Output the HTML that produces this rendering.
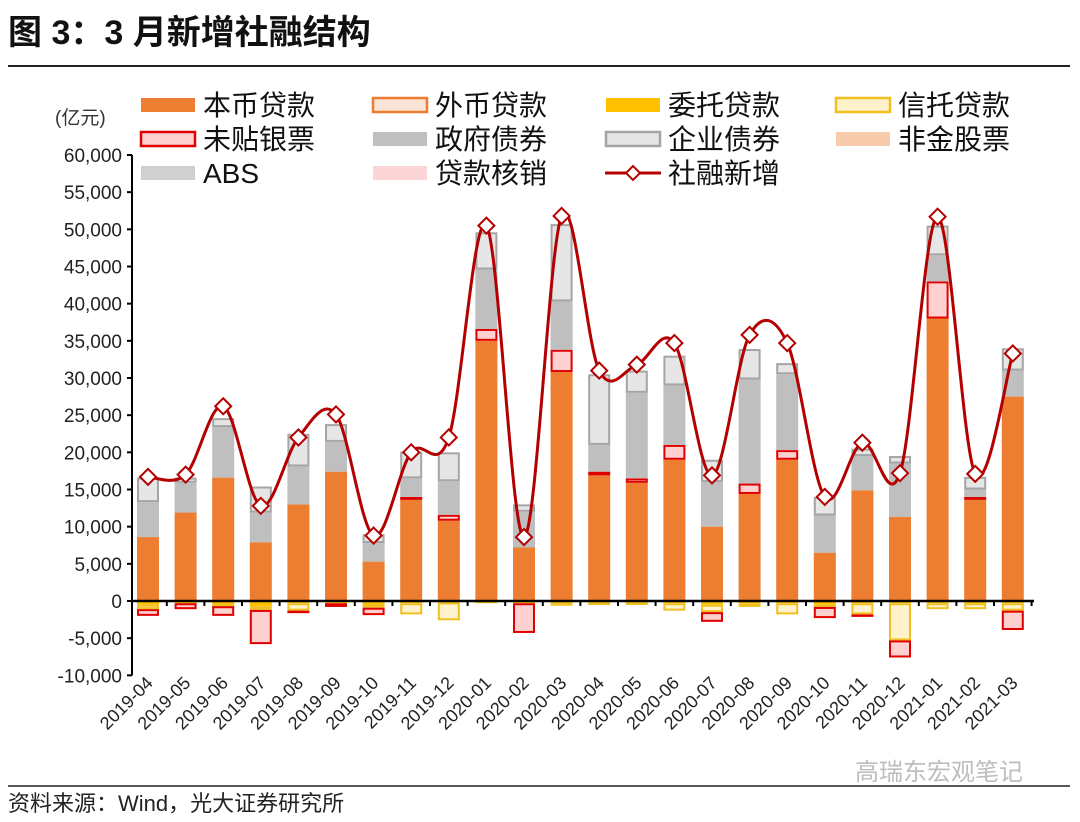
<!DOCTYPE html>
<html><head><meta charset="utf-8"><style>
body{margin:0;background:#fff;font-family:"Liberation Sans","Noto Sans CJK SC",sans-serif;}
#wrap{position:relative;width:1080px;height:822px;overflow:hidden;background:#fff}
</style></head><body>
<div id="wrap">
<svg id="svg" width="1080" height="822" xmlns="http://www.w3.org/2000/svg">
<text x="8" y="44" font-size="34" font-weight="bold" fill="#111" font-family="Liberation Sans,Noto Sans CJK SC,sans-serif">图 3：3 月新增社融结构</text>
<line x1="8" y1="66" x2="1070" y2="66" stroke="#222" stroke-width="2"/>
<line x1="8" y1="786" x2="1070" y2="786" stroke="#222" stroke-width="1.5"/>
<text x="8" y="811" font-size="22" fill="#222" font-family="Liberation Sans,Noto Sans CJK SC,sans-serif">资料来源：Wind，光大证券研究所</text>
<text x="855" y="780" font-size="24" fill="#bdbdbd" font-family="Liberation Sans,Noto Sans CJK SC,sans-serif">高瑞东宏观笔记</text>
<text x="55" y="124" font-size="19" fill="#333" font-family="Liberation Sans,Noto Sans CJK SC,sans-serif">(亿元)</text>
<g id="plot"></g>
<g id="legend"></g>
</svg>
</div>
<script>
const categories=["2019-04","2019-05","2019-06","2019-07","2019-08","2019-09","2019-10","2019-11","2019-12","2020-01","2020-02","2020-03","2020-04","2020-05","2020-06","2020-07","2020-08","2020-09","2020-10","2020-11","2020-12","2021-01","2021-02","2021-03"];
const loanRMB=[8600,11900,16600,7900,13000,17400,5300,13600,10800,35000,7200,30800,16900,15900,19000,10000,14400,19000,6500,14900,11300,38000,13600,27500];
const bills=[-900,-800,-1300,-4600,-300,-500,-1000,400,800,1600,-4000,3000,500,600,2000,-1300,1400,1300,-1500,-300,-2300,5000,400,-2600];
const govBond=[4700,4000,6800,4000,5100,4000,2500,2500,4500,8000,4800,6500,3600,11500,8000,6000,14000,10200,5000,4600,7200,3500,1000,3500];
const corpBond=[3300,700,1200,3500,4400,2400,1200,3600,3900,5000,1000,10400,9500,3000,4000,3000,4100,1500,2500,1000,1000,4000,1700,3000];
const trustLoan=[-600,0,-300,-500,-1000,0,-500,-1500,-2400,0,0,-300,-300,-200,-1000,-1000,-500,-1500,-300,-1500,-5000,-800,-800,-1000];
const entrustLoan=[-500,-300,-400,-700,-300,-300,-400,-300,-200,-300,-300,-300,-200,-200,-300,-500,-300,-300,-500,-300,-300,-300,-300,-300];
const totalSF=[16700,17000,26200,12800,22000,25100,8800,20000,22000,50500,8600,51800,31000,31800,34700,16900,35800,34700,14000,21300,17200,51700,17100,33300];
const yTicks=[-10000,-5000,0,5000,10000,15000,20000,25000,30000,35000,40000,45000,50000,55000,60000];

const NS="http://www.w3.org/2000/svg";
const plot=document.getElementById('plot');
const X0=148,DX=37.6,BW=22;
function xPos(i){return X0+i*DX;}
function yPos(v){return 601-v*446/60000;}
function mk(tag,attrs,parent){const e=document.createElementNS(NS,tag);for(const k in attrs)e.setAttribute(k,attrs[k]);(parent||plot).appendChild(e);return e;}
function fmt(v){return v.toLocaleString('en-US');}

let ax=mk('line',{x1:132,y1:yPos(60000),x2:132,y2:yPos(-10000),stroke:'#000','stroke-width':2});


yTicks.forEach(t=>{
  let tk=mk('line',{x1:127,y1:yPos(t),x2:132,y2:yPos(t),stroke:'#000','stroke-width':2});
  
  
  let tx=mk('text',{x:122,y:yPos(t)+7,'text-anchor':'end','font-size':19,fill:'#222'});
  tx.textContent=fmt(t);
  
  
});

function bar(i,v0,v1,fill,stroke,name){
  if(v1===v0)return;
  const y1=yPos(Math.max(v0,v1)),y2=yPos(Math.min(v0,v1));
  const sw=stroke?2:0;
  let r=mk('rect',{x:xPos(i)-BW/2+sw/2,y:y1+sw/2,width:BW-sw,height:Math.max(0.5,y2-y1-sw),fill:fill,stroke:stroke||'none','stroke-width':sw});
  
  
}
categories.forEach((c,i)=>{
  let p=0,n=0;
  bar(i,0,loanRMB[i],'#ED7D31',null,'bar-rmb-loan');p=loanRMB[i];
  if(bills[i]>0){bar(i,p,p+bills[i],'#FFD0D0','#E00000','bar-bills');p+=bills[i];}
  bar(i,p,p+govBond[i],'#BFBFBF',null,'bar-gov-bond');p+=govBond[i];
  bar(i,p,p+corpBond[i],'#E7E6E6','#A5A5A5','bar-corp-bond');p+=corpBond[i];
  bar(i,n,n+entrustLoan[i],'#FFC000',null,'bar-entrusted-loan');n+=entrustLoan[i];
  bar(i,n,n+trustLoan[i],'#FFF2CC','#F0C020','bar-trust-loan');n+=trustLoan[i];
  if(bills[i]<0){bar(i,n,n+bills[i],'#FFD0D0','#E00000','bar-bills');n+=bills[i];}
});
let xa=mk('line',{x1:132,y1:yPos(0),x2:1034,y2:yPos(0),stroke:'#000','stroke-width':2.5});


categories.forEach((c,i)=>{
  let tk=mk('line',{x1:xPos(i)+DX/2,y1:yPos(0),x2:xPos(i)+DX/2,y2:yPos(0)+5,stroke:'#000','stroke-width':2});
  
  
  const lx=xPos(i)+6,ly=684;
  let tx=mk('text',{x:lx,y:ly,'text-anchor':'end','font-size':18,fill:'#222',transform:`rotate(-45 ${lx} ${ly})`});
  tx.textContent=c;
  
  
});
const pts=totalSF.map((v,i)=>[xPos(i),yPos(v)]);
let d=`M${pts[0][0]},${pts[0][1]}`;
for(let i=0;i<pts.length-1;i++){
  const p0=pts[Math.max(0,i-1)],p1=pts[i],p2=pts[i+1],p3=pts[Math.min(pts.length-1,i+2)];
  const c1=[p1[0]+(p2[0]-p0[0])/6,p1[1]+(p2[1]-p0[1])/6],c2=[p2[0]-(p3[0]-p1[0])/6,p2[1]-(p3[1]-p1[1])/6];
  d+=` C${c1[0]},${c1[1]} ${c2[0]},${c2[1]} ${p2[0]},${p2[1]}`;
}
let ln=mk('path',{d:d,fill:'none',stroke:'#B40000','stroke-width':3});


pts.forEach(p=>{
  let m=mk('path',{d:`M${p[0]},${p[1]-8} L${p[0]+8},${p[1]} L${p[0]},${p[1]+8} L${p[0]-8},${p[1]} Z`,fill:'#fff',stroke:'#B40000','stroke-width':2});
  
  
});
const lg=document.getElementById('legend');
const items=[["本币贷款",'#ED7D31',null],["外币贷款",'#FCE4D6','#ED7D31'],["委托贷款",'#FFC000',null],["信托贷款",'#FFF2CC','#F0C020'],
["未贴银票",'#FFD0D0','#E00000'],["政府债券",'#BFBFBF',null],["企业债券",'#E7E6E6','#A5A5A5'],["非金股票",'#F8CBAD',null],
["ABS",'#D0D0D0',null],["贷款核销",'#FBD5D5',null],["社融新增",'line',null]];
const cols=[140,372,605,835];
items.forEach((it,k)=>{
  const cx=cols[k%4],cy=105+Math.floor(k/4)*34;
  const g=mk('g',{},lg);
  
  
  if(it[1]==='line'){
    mk('line',{x1:cx,y1:cy,x2:cx+56,y2:cy,stroke:'#B40000','stroke-width':3},g);
    mk('path',{d:`M${cx+28},${cy-7} L${cx+35},${cy} L${cx+28},${cy+7} L${cx+21},${cy} Z`,fill:'#fff',stroke:'#B40000','stroke-width':2},g);
  }else{
    mk('rect',{x:cx+1,y:cy-7,width:54,height:14,fill:it[1],stroke:it[2]||'none','stroke-width':it[2]?2.5:0},g);
  }
  const t=mk('text',{x:cx+63,y:cy+10,'font-size':28,fill:'#111'},g);
  t.textContent=it[0];
});
</script>
</body></html>
